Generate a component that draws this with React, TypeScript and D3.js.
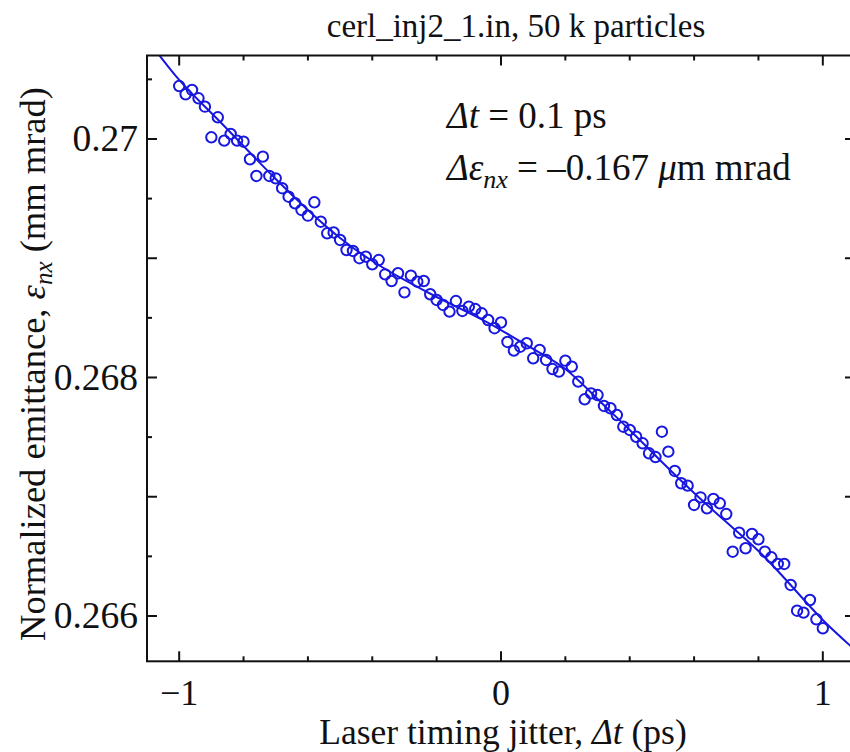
import React from "react";
import * as d3 from "d3";

const X_VALUES = [
  -1.0, -0.98, -0.96, -0.94, -0.92, -0.9, -0.88, -0.86, -0.84, -0.82,
  -0.8, -0.78, -0.76, -0.74, -0.72, -0.7, -0.68, -0.66, -0.64, -0.62,
  -0.6, -0.58, -0.56, -0.54, -0.52, -0.5, -0.48, -0.46, -0.44, -0.42,
  -0.4, -0.38, -0.36, -0.34, -0.32, -0.3, -0.28, -0.26, -0.24, -0.22,
  -0.2, -0.18, -0.16, -0.14, -0.12, -0.1, -0.08, -0.06, -0.04, -0.02,
  0.0, 0.02, 0.04, 0.06, 0.08, 0.1, 0.12, 0.14, 0.16, 0.18,
  0.2, 0.22, 0.24, 0.26, 0.28, 0.3, 0.32, 0.34, 0.36, 0.38,
  0.4, 0.42, 0.44, 0.46, 0.48, 0.5, 0.52, 0.54, 0.56, 0.58,
  0.6, 0.62, 0.64, 0.66, 0.68, 0.7, 0.72, 0.74, 0.76, 0.78,
  0.8, 0.82, 0.84, 0.86, 0.88, 0.9, 0.92, 0.94, 0.96, 0.98,
  1.0,
];

const EMITTANCE = [
  0.270444, 0.270375, 0.270411, 0.270341, 0.270271, 0.270014, 0.270182, 0.269986, 0.270042, 0.269986,
  0.269977, 0.26983, 0.26969, 0.269852, 0.26969, 0.26967, 0.269587, 0.269516, 0.269461, 0.269405,
  0.269357, 0.269469, 0.269306, 0.269209, 0.269216, 0.269153, 0.269069, 0.269061, 0.269, 0.269013,
  0.268949, 0.268985, 0.268865, 0.268809, 0.268874, 0.268714, 0.268854, 0.268803, 0.268809, 0.268698,
  0.26865, 0.268608, 0.268552, 0.268641, 0.268558, 0.268594, 0.268574, 0.268538, 0.268482, 0.268413,
  0.268461, 0.268298, 0.268225, 0.268258, 0.268287, 0.268161, 0.268231, 0.268147, 0.268071, 0.268049,
  0.268141, 0.268091, 0.267965, 0.267817, 0.267867, 0.267853, 0.267761, 0.267742, 0.267685, 0.267587,
  0.26756, 0.267503, 0.267448, 0.267364, 0.267333, 0.267545, 0.267378, 0.267216, 0.267113, 0.267093,
  0.266931, 0.266995, 0.266903, 0.266981, 0.266945, 0.266855, 0.266539, 0.266698, 0.266568, 0.266688,
  0.266643, 0.266539, 0.266492, 0.266436, 0.266436, 0.26626, 0.266044, 0.266028, 0.266134, 0.265972,
  0.265897,
];

const FIT_X = [-1.1, -1.0, -0.9, -0.8, -0.7, -0.6, -0.5, -0.4, -0.3, -0.2, -0.1, 0.0, 0.1, 0.2, 0.3, 0.4, 0.5, 0.6, 0.7, 0.8, 0.9, 1.0, 1.1];
const FIT_Y = [
  0.270839, 0.270495, 0.270218, 0.269941, 0.269665, 0.269405, 0.26917, 0.268977, 0.268818, 0.268675,
  0.268541, 0.268398, 0.268239, 0.268071, 0.26782, 0.26756, 0.267291, 0.267031, 0.266788, 0.266545,
  0.26626, 0.265966, 0.265715,
];

const X_MAJOR = [-1, 0, 1];
const X_MINOR = [-0.8, -0.6, -0.4, -0.2, 0.2, 0.4, 0.6, 0.8];
const X_LABELS = ["\u22121", "0", "1"];
const Y_MAJOR = [0.266, 0.267, 0.268, 0.269, 0.27];
const Y_MINOR = [0.2665, 0.2675, 0.2685, 0.2695, 0.2705];
const Y_LABEL_VALUES = [0.266, 0.268, 0.27];
const Y_LABELS = ["0.266", "0.268", "0.27"];

const TITLE = "cerl_inj2_1.in, 50 k particles";

const W = 850;
const H = 752;
const LEFT = 147;
const RIGHT = 855;
const TOP = 55.5;
const BOTTOM = 661.3;
const BLUE = "#1717e0";
const FONT = "'Liberation Serif', 'Times New Roman', serif";

export default function App() {
  const x = d3.scaleLinear().domain([-1.1, 1.1]).range([LEFT, RIGHT]);
  const y = d3.scaleLinear().domain([0.26562, 0.2707]).range([BOTTOM, TOP]);

  const fitLine = d3
    .line<number>()
    .x((_, i) => x(FIT_X[i]))
    .y((d) => y(d))
    .curve(d3.curveNatural)(FIT_Y) as string;

  const majorLen = 10;
  const minorLen = 5;

  return (
    <svg
      width={W}
      height={H}
      style={{ position: "absolute", left: 0, top: 0, background: "#fff" }}
      fontFamily={FONT}
    >
      <rect x={0} y={0} width={W} height={H} fill="#fff" />
      <defs>
        <clipPath id="plotclip">
          <rect x={LEFT} y={TOP} width={RIGHT - LEFT} height={BOTTOM - TOP} />
        </clipPath>
      </defs>

      {/* title */}
      <text x={516} y={37} fontSize={33} textAnchor="middle" fill="#111">
        {TITLE}
      </text>

      {/* data */}
      <g clipPath="url(#plotclip)">
        <path d={fitLine} fill="none" stroke={BLUE} strokeWidth={2} />
        {EMITTANCE.map((v, i) => (
          <circle
            key={i}
            cx={x(X_VALUES[i])}
            cy={y(v)}
            r={5.2}
            fill="none"
            stroke={BLUE}
            strokeWidth={2}
          />
        ))}
      </g>

      {/* frame */}
      <rect
        x={LEFT}
        y={TOP}
        width={RIGHT - LEFT}
        height={BOTTOM - TOP}
        fill="none"
        stroke="#111"
        strokeWidth={2}
      />

      {/* x ticks */}
      {X_MAJOR.map((t) => (
        <g key={"xM" + t}>
          <line x1={x(t)} x2={x(t)} y1={BOTTOM} y2={BOTTOM - majorLen} stroke="#111" strokeWidth={2} />
          <line x1={x(t)} x2={x(t)} y1={TOP} y2={TOP + majorLen} stroke="#111" strokeWidth={2} />
        </g>
      ))}
      {X_MINOR.map((t) => (
        <g key={"xm" + t}>
          <line x1={x(t)} x2={x(t)} y1={BOTTOM} y2={BOTTOM - minorLen} stroke="#111" strokeWidth={2} />
          <line x1={x(t)} x2={x(t)} y1={TOP} y2={TOP + minorLen} stroke="#111" strokeWidth={2} />
        </g>
      ))}
      {X_MAJOR.map((t, i) => (
        <text key={"xl" + t} x={x(t)} y={705} fontSize={36} textAnchor="middle" fill="#111">
          {X_LABELS[i]}
        </text>
      ))}

      {/* y ticks */}
      {Y_MAJOR.map((t) => (
        <g key={"yM" + t}>
          <line x1={LEFT} x2={LEFT + majorLen} y1={y(t)} y2={y(t)} stroke="#111" strokeWidth={2} />
          <line x1={RIGHT} x2={RIGHT - majorLen} y1={y(t)} y2={y(t)} stroke="#111" strokeWidth={2} />
        </g>
      ))}
      {Y_MINOR.map((t) => (
        <g key={"ym" + t}>
          <line x1={LEFT} x2={LEFT + minorLen} y1={y(t)} y2={y(t)} stroke="#111" strokeWidth={2} />
          <line x1={RIGHT} x2={RIGHT - minorLen} y1={y(t)} y2={y(t)} stroke="#111" strokeWidth={2} />
        </g>
      ))}
      {Y_LABEL_VALUES.map((t, i) => (
        <text key={"yl" + t} x={138} y={y(t) + 12.5} fontSize={37.5} textAnchor="end" fill="#111">
          {Y_LABELS[i]}
        </text>
      ))}

      {/* x axis label */}
      <text x={503} y={744} fontSize={35.5} textAnchor="middle" fill="#111">
        Laser timing jitter, <tspan fontStyle="italic">Δt</tspan> (ps)
      </text>

      {/* y axis label */}
      <text
        transform={`translate(45, 364) rotate(-90)`}
        fontSize={36.5}
        textAnchor="middle"
        fill="#111"
      >
        Normalized emittance, <tspan fontStyle="italic">ε</tspan>
        <tspan fontStyle="italic" fontSize={25} dy={7}>nx</tspan>
        <tspan dy={-7}> (mm mrad)</tspan>
      </text>

      {/* annotation */}
      <text x={447} y={128} fontSize={37} fill="#111">
        <tspan fontStyle="italic">Δt</tspan> = 0.1 ps
      </text>
      <text x={447} y={180} fontSize={37} fill="#111">
        <tspan fontStyle="italic">Δε</tspan>
        <tspan fontStyle="italic" fontSize={26} dy={8}>nx</tspan>
        <tspan dy={-8}> = –0.167 </tspan>
        <tspan fontStyle="italic">μ</tspan>m mrad
      </text>
    </svg>
  );
}
